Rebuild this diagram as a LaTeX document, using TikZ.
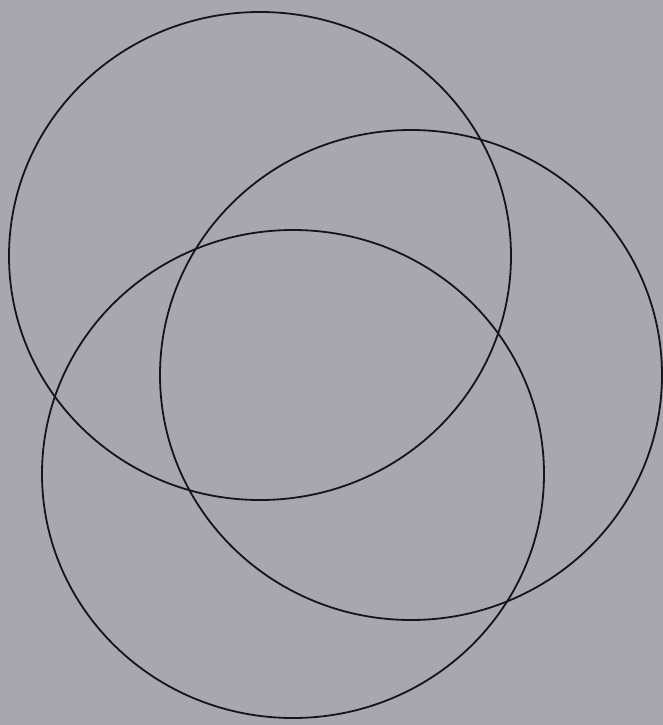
\documentclass[tikz,border=0pt]{standalone}
\definecolor{bggray}{RGB}{168,167,176}
\definecolor{ink}{RGB}{20,20,26}
\begin{document}
\begin{tikzpicture}[x=1pt,y=-1pt,
  ring/.style={draw=ink,line width=1.8pt}]
\fill[bggray] (0,0) rectangle (663,725);
\useasboundingbox (0,0) rectangle (663,725);
\draw[ring] (260,256) ellipse [x radius=251, y radius=244];
\draw[ring] (411,375) ellipse [x radius=251, y radius=245];
\draw[ring] (293,474) ellipse [x radius=251, y radius=244];
\end{tikzpicture}
\end{document}
